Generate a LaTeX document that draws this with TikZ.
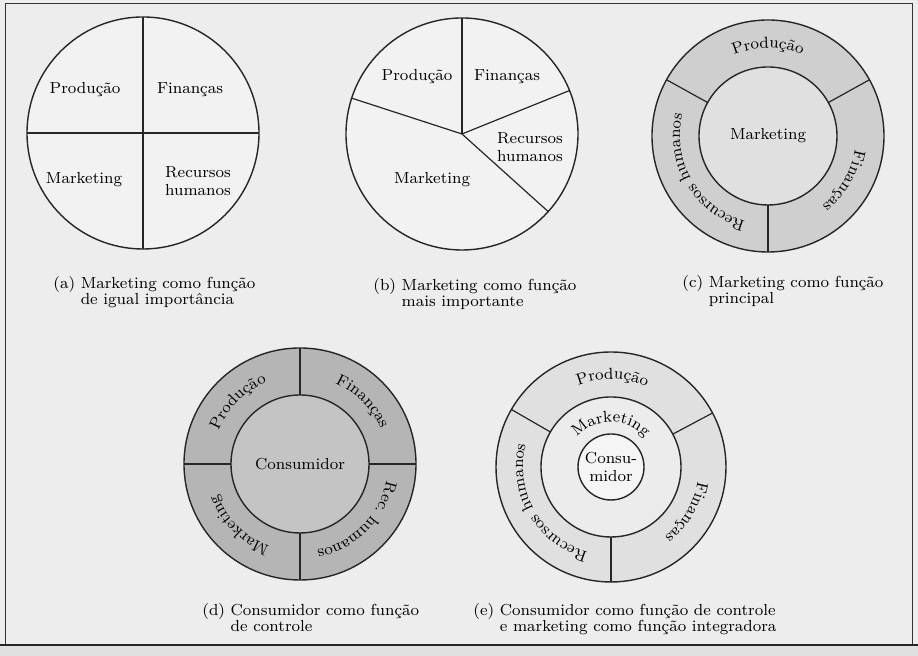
\documentclass[tikz,border=0pt]{standalone}
\usepackage{tikz}
\usetikzlibrary{decorations.text}
\begin{document}
\begin{tikzpicture}[x=0.5pt, y=0.5pt,
    disc/.style={draw=black!85, line width=0.7pt},
    spoke/.style={draw=black!85, line width=0.6pt},
    lbl/.style={font=\fontsize{8}{8.8}\selectfont, align=center, inner sep=0pt},
    captxt/.style={font=\fontsize{8}{8.4}\selectfont, anchor=west, inner sep=0pt},
    arctext/.style={decorate, decoration={text along path, text align=center,
        text={|\fontsize{8}{8.8}\selectfont|#1}}}]
    \fill[gray!14] (0,0) rectangle (918,656);
    \fill[gray!24] (0,0) rectangle (918,11);
    \useasboundingbox (0,0) rectangle (918,656);
    \draw[black!80, line width=0.5pt] (5,11) -- (5,652) -- (912,652) -- (912,11);
    \draw[black!85, line width=0.8pt] (0,11) -- (918,11);

    \coordinate (ca) at (143,523);
    \draw[disc, fill=gray!10] (ca) circle[radius=116];
    \draw[spoke] ([shift={(90:116)}]ca) -- ([shift={(270:116)}]ca);
    \draw[spoke] ([shift={(180:116)}]ca) -- ([shift={(0:116)}]ca);
    \node[lbl] (ap) at (85,566) {Produção};
    \node[lbl] (af) at (190,566) {Finanças};
    \node[lbl] (am) at (84,476) {Marketing};
    \node[lbl] (ar) at (198,475) {Recursos\\humanos};
    \node[captxt] (capa) at (53,363) {\begin{tabular}{@{}l@{ }l@{}}(a) & Marketing como função\\ & de igual importância\end{tabular}};

    \coordinate (cb) at (462,522);
    \draw[disc, fill=gray!10] (cb) circle[radius=116];
    \foreach \a in {90,22,-42,162} \draw[spoke] (cb) -- ++(\a:116);
    \node[lbl] (bp) at (417,579) {Produção};
    \node[lbl] (bf) at (507,579) {Finanças};
    \node[lbl] (br) at (530,509) {Recursos\\humanos};
    \node[lbl] (bm) at (432,476) {Marketing};
    \node[captxt] (capb) at (373,361) {\begin{tabular}{@{}l@{ }l@{}}(b) & Marketing como função\\ & mais importante\end{tabular}};

    \coordinate (cc) at (768,520);
    \draw[disc, fill=gray!38] (cc) circle[radius=116];
    \draw[disc, fill=gray!24] (cc) circle[radius=69];
    \foreach \a in {151,29,270} \draw[spoke] ([shift={(\a:69)}]cc) -- ([shift={(\a:116)}]cc);
    \path[arctext=Produção] ([shift={(151:88)}]cc) arc[start angle=151, end angle=29, radius=88];
    \path[arctext=Finanças] ([shift={(29:88)}]cc) arc[start angle=29, end angle=-90, radius=88];
    \path[arctext=Recursos humanos] ([shift={(270:88)}]cc) arc[start angle=270, end angle=151, radius=88];
    \node[lbl] (cm) at (cc) {Marketing};
    \node[captxt] (capc) at (682,364) {\begin{tabular}{@{}l@{ }l@{}}(c) & Marketing como função\\ & principal\end{tabular}};

    \coordinate (cd) at (300,192);
    \draw[disc, fill=gray!58] (cd) circle[radius=116];
    \draw[disc, fill=gray!46] (cd) circle[radius=69];
    \foreach \a in {0,90,180,270} \draw[spoke] ([shift={(\a:69)}]cd) -- ([shift={(\a:116)}]cd);
    \path[arctext=Produção] ([shift={(180:88)}]cd) arc[start angle=180, end angle=90, radius=88];
    \path[arctext=Finanças] ([shift={(90:88)}]cd) arc[start angle=90, end angle=0, radius=88];
    \path[arctext=Rec. humanos] ([shift={(0:88)}]cd) arc[start angle=0, end angle=-90, radius=88];
    \path[arctext=Marketing] ([shift={(270:88)}]cd) arc[start angle=270, end angle=180, radius=88];
    \node[lbl] (dc) at (cd) {Consumidor};
    \node[captxt] (capd) at (202,36) {\begin{tabular}{@{}l@{ }l@{}}(d) & Consumidor como função\\ & de controle\end{tabular}};

    \coordinate (ce) at (611,189);
    \draw[disc, fill=gray!24] (ce) circle[radius=115];
    \draw[disc, fill=gray!15] (ce) circle[radius=70];
    \draw[disc, fill=gray!8] (ce) circle[radius=33];
    \foreach \a in {150,28,270} \draw[spoke] ([shift={(\a:70)}]ce) -- ([shift={(\a:115)}]ce);
    \path[arctext=Produção] ([shift={(150:88)}]ce) arc[start angle=150, end angle=28, radius=88];
    \path[arctext=Finanças] ([shift={(28:88)}]ce) arc[start angle=28, end angle=-90, radius=88];
    \path[arctext=Recursos humanos] ([shift={(270:88)}]ce) arc[start angle=270, end angle=150, radius=88];
    \path[arctext=Marketing] ([shift={(170:45)}]ce) arc[start angle=170, end angle=10, radius=45];
    \node[lbl] (ec) at (ce) {Consu-\\midor};
    \node[captxt] (cape) at (473,36) {\begin{tabular}{@{}l@{ }l@{}}(e) & Consumidor como função de controle\\ & e marketing como função integradora\end{tabular}};
\end{tikzpicture}
\end{document}
